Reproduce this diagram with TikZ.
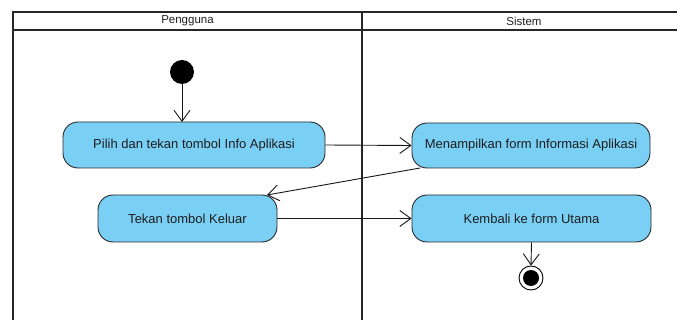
\documentclass[tikz,border=0pt]{standalone}
\usepackage{fontspec}
\setmainfont{Liberation Sans}
\usetikzlibrary{arrows.meta}
\definecolor{actfill}{RGB}{122,207,245}
\definecolor{actline}{RGB}{40,40,40}
\definecolor{txt}{RGB}{30,30,30}
\tikzset{
  x=1pt, y=-1pt,
  lane/.style={line width=2pt, black!85},
  action/.style={draw=actline, fill=actfill, line width=0.9pt, rounded corners=15pt,
    font=\fontsize{13}{15}\selectfont, text=txt, inner sep=0pt, anchor=center},
  flow/.style={draw=black!90, line width=0.9pt, -{Straight Barb[length=11pt,width=16pt,line width=0.9pt]}},
  startnode/.style={circle, fill=black, minimum size=24pt, inner sep=0pt},
  lanehead/.style={font=\fontsize{11.5}{13}\selectfont, text=txt}
}
\begin{document}
\begin{tikzpicture}
\useasboundingbox (0,0) rectangle (677,320);
\clip (0,0) rectangle (677,320);
% swimlane frame
\draw[line width=1.2pt, black!85] (12,12) -- (690,12);
\draw[lane] (12,30) -- (690,30);
\draw[lane] (13,11.4) -- (13,330);
\draw[lane] (362,11.4) -- (362,330);
\node[lanehead] (hUser) at (187.5,21) {Pengguna};
\node[lanehead] (hSys) at (524,21) {Sistem};
% actions
\node[action, minimum width=262pt, minimum height=46pt] (a1) at (194,145) {Pilih dan tekan tombol Info Aplikasi};
\node[action, minimum width=238pt, minimum height=45pt] (a2) at (531,145.5) {Menampilkan form Informasi Aplikasi};
\node[action, minimum width=179pt, minimum height=47pt] (a3) at (187.5,218.5) {Tekan tombol Keluar};
\node[action, minimum width=239pt, minimum height=47pt] (a4) at (531.5,218.5) {Kembali ke form Utama};
% initial and final states
\node[startnode] (start) at (182,72) {};
\node[circle, draw=black, line width=0.9pt, fill=white, minimum size=24pt, inner sep=0pt] (end) at (531,278) {};
\node[circle, fill=black, minimum size=16pt, inner sep=0pt] (endin) at (end.center) {};
% control flows
\coordinate (t1) at (182,122);
\draw[flow] (start.south) -- (t1);
\draw[flow] (a1.east) -- (a2.west);
\coordinate (f2) at (420,168);
\coordinate (t3) at (267,195);
\draw[flow] (f2) -- (t3);
\draw[flow] (a3.east) -- (a4.west);
\draw[flow] (a4.south) -- (end.north);
\end{tikzpicture}
\end{document}
